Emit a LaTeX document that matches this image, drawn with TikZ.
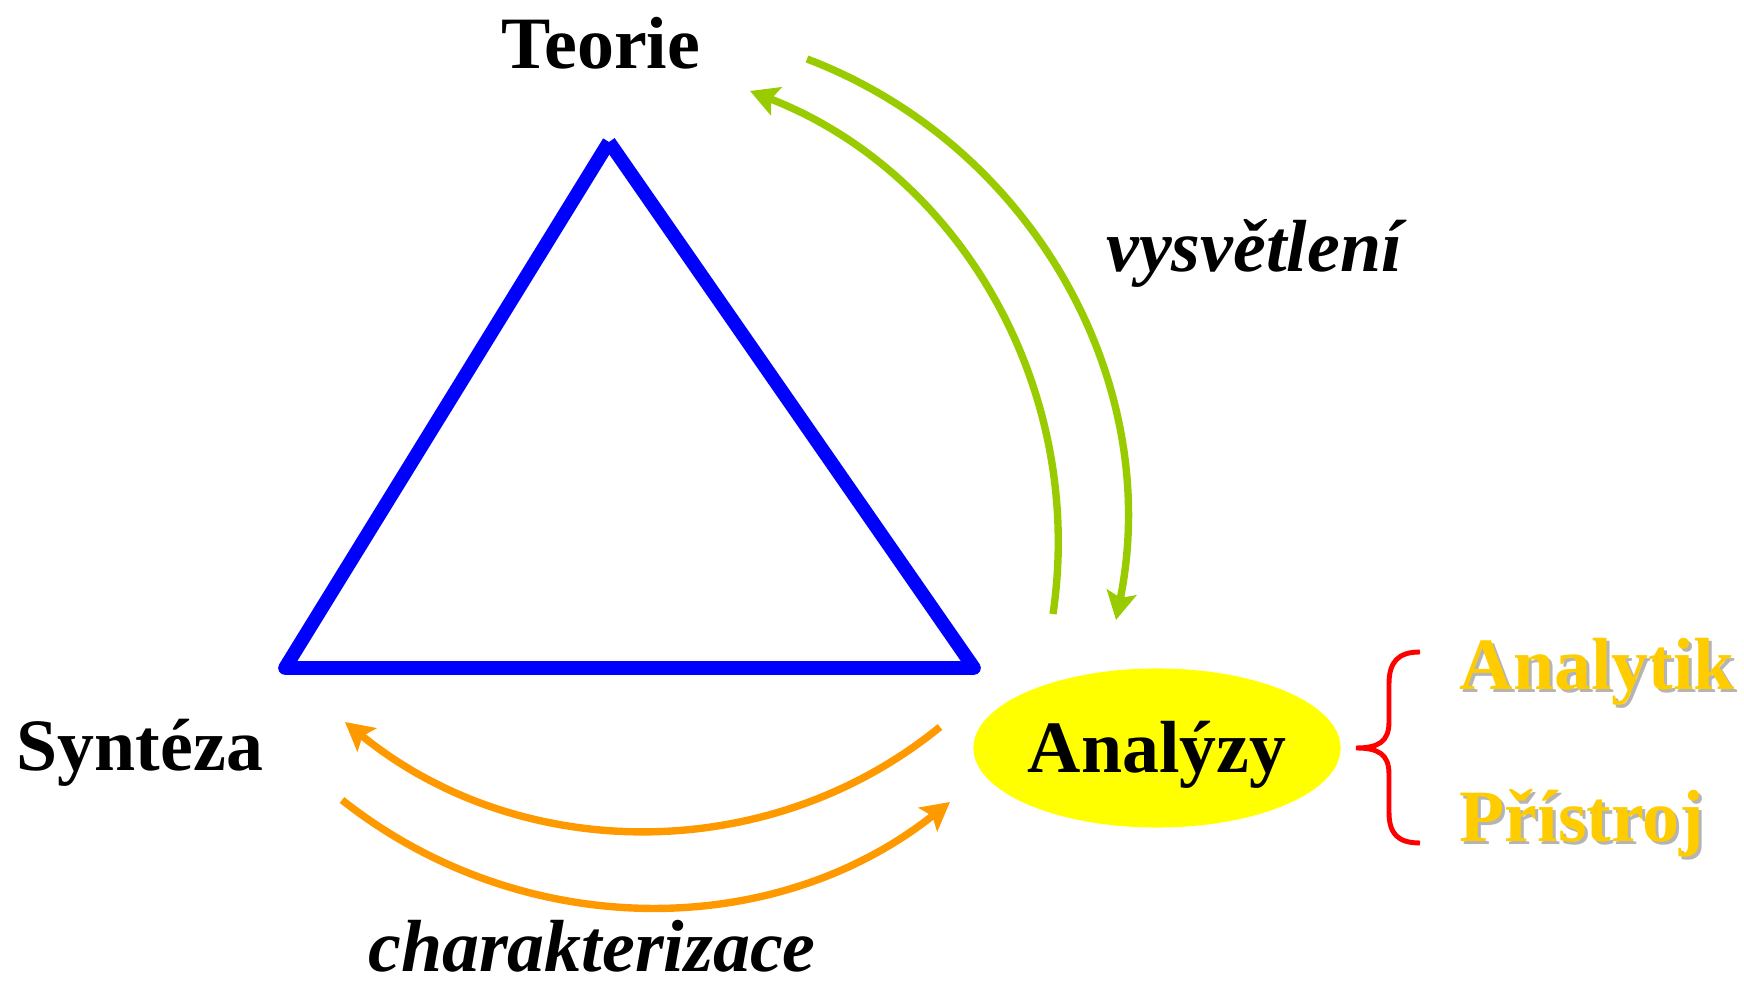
\documentclass[tikz,border=0pt]{standalone}
\usepackage{fontspec}
\setmainfont{Liberation Serif}
\usepackage{tikz}
\usetikzlibrary{arrows.meta,positioning,shapes.geometric}
\definecolor{triblue}{HTML}{0000FF}
\definecolor{leaf}{HTML}{99CC00}
\definecolor{amber}{HTML}{FF9900}
\definecolor{lemon}{HTML}{FFFF00}
\definecolor{gold}{HTML}{FFCC00}
\definecolor{bracered}{HTML}{FF0000}
\definecolor{shade}{HTML}{B4B4B4}
\newcommand{\bigfont}{\fontsize{21}{25}\selectfont}

\begin{document}
\begin{tikzpicture}[x=0.01cm, y=-0.01cm,
      word/.style={font=\bigfont\bfseries, inner sep=0pt, anchor=base},
      note/.style={font=\bigfont\bfseries\itshape, inner sep=0pt, anchor=base},
      role/.style={font=\bigfont\bfseries, inner sep=0pt, anchor=base west, text=gold},
      role shadow/.style={role, text=shade},
      side/.style={draw=triblue, line width=3.9pt, line join=round},
      blob/.style={ellipse, fill=lemon, inner sep=0pt, minimum width=3.67cm,
                   minimum height=1.59cm, font=\bigfont\bfseries,
                   text height=14pt, text depth=0pt},
      garr/.style={-{Stealth[length=8pt, width=8.5pt, inset=1.6pt]}, line width=2.1pt, leaf},
      oarr/.style={-{Stealth[length=8pt, width=8.5pt, inset=1.6pt]}, line width=2.1pt, amber},
      brace/.style={draw=bracered, line width=1.4pt}
    ]
      \useasboundingbox (0,0) rectangle (1744,986);

      % Triangle
      \coordinate (apex) at (609, 142);
      \coordinate (bl) at (285, 668);
      \coordinate (br) at (974, 668);
      \draw[side] (apex) -- (bl) -- (br) -- (apex);

      % Corners
      \node[word] (teorie) at (601, 69) {Teorie};
      \node[word] (synteza) at (140, 771) {Syntéza};
      \node[blob] (analyzy) at (1157, 748) {Analýzy};

      % Cycles
      \coordinate (g1s) at (807, 59);
      \coordinate (g1e) at (1116, 620);
      \coordinate (g2s) at (1053, 614);
      \coordinate (g2e) at (750, 91);
      \draw[garr] (g1s) .. controls (1033, 145) and (1164, 383) .. (g1e);
      \draw[garr] (g2s) .. controls (1086, 390) and (961, 173) .. (g2e);
      \node[note] (vysv) at (1254, 272) {vysvětlení};

      \coordinate (o1s) at (940, 727);
      \coordinate (o1e) at (345, 722);
      \coordinate (o2s) at (342, 800);
      \coordinate (o2e) at (950, 802);
      \draw[oarr] (o1s) .. controls (767, 868) and (518, 863) .. (o1e);
      \draw[oarr] (o2s) .. controls (520, 941) and (772, 943) .. (o2e);
      \node[note] (charakt) at (592, 972) {charakterizace};

      % Brace
      \draw[brace] (1420, 652) .. controls (1398, 652) and (1389, 662) .. (1389, 684)
        -- (1389, 722) .. controls (1389, 742) and (1378, 748) .. (1356, 748)
        .. controls (1378, 748) and (1389, 754) .. (1389, 774)
        -- (1389, 812) .. controls (1389, 834) and (1398, 843) .. (1420, 843);

      % Parts
      \node[role shadow] (analytikS) at (1462, 693) {Analytik};
      \node[role] (analytik) at (1459, 690) {Analytik};
      \node[role shadow] (pristrojS) at (1462, 845) {Přístroj};
      \node[role] (pristroj) at (1459, 842) {Přístroj};
    \end{tikzpicture}
\end{document}
